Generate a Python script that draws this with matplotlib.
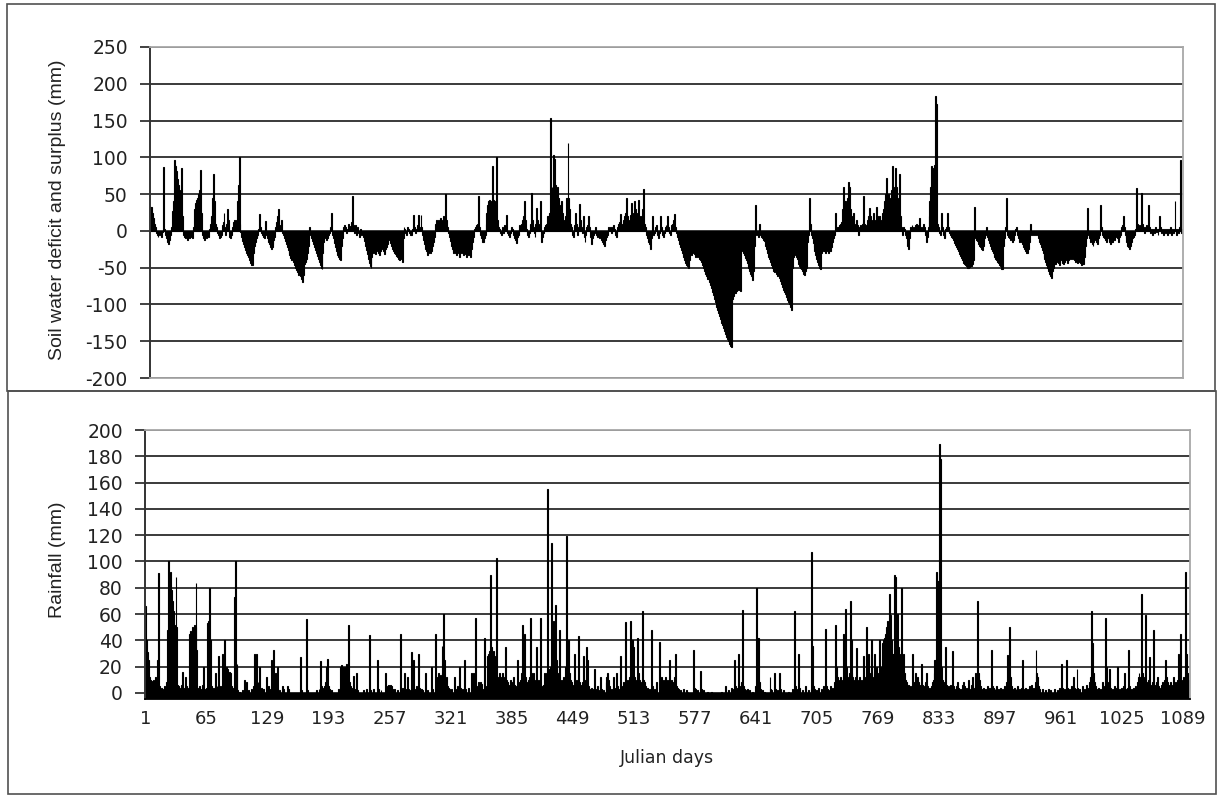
import numpy as np
import matplotlib
matplotlib.use("Agg")
import matplotlib.pyplot as plt
from matplotlib.patches import Rectangle

# Daily soil water deficit (-) and surplus (+), mm
deficit_a = [  # days 1-370
    33, 32, 25, 18, 10, 5, -3, -5, -8, -5,
    -3, -6, -8, -2, 87, 3, -5, -10, -15, -18,
    -12, -5, 5, 27, 40, 96, 90, 88, 82, 70,
    62, 55, 45, 85, 20, -5, -8, -10, -6, -12,
    -8, -10, -5, -3, -8, -10, 5, 30, 38, 42,
    45, 50, 55, 83, 25, -5, -10, -12, -8, -10,
    -5, -3, -8, 2, 10, 20, 45, 78, 40, 10,
    5, -3, -5, -10, -8, -5, 8, 12, 25, 5,
    -5, 10, 30, 15, -8, -10, -6, 5, 12, 15,
    10, 15, 40, 63, 100, 10, -2, -8, -14, -18,
    -22, -26, -30, -33, -36, -40, -43, -46, -47, -30,
    -20, -15, -10, -8, -5, 3, 23, 5, -3, -5,
    -8, -10, 13, -5, -10, -15, -18, -22, -25, -22,
    -18, -12, -8, 5, 12, 20, 30, 8, 5, 15,
    -3, -6, -10, -14, -18, -22, -26, -30, -33, -37,
    -40, -38, -42, -46, -50, -53, -56, -60, -55, -62,
    -66, -70, -60, -45, -42, -40, -38, -30, -20, 5,
    -5, -10, -14, -18, -22, -26, -30, -34, -38, -42,
    -46, -50, -52, -30, -15, -10, -8, -12, -10, -5,
    -3, 5, 25, -5, -10, -16, -22, -28, -33, -36,
    -30, -38, -40, -20, -10, 5, 8, 5, -3, 3,
    10, 5, 6, 12, 48, 8, -3, 5, 8, -5,
    5, -3, -8, 3, -5, -2, -8, -14, -20, -26,
    -32, -38, -44, -48, -50, -35, -28, -30, -26, -32,
    -28, -24, -30, -33, -28, -25, -20, -28, -32, -25,
    -22, -18, -5, -8, -12, -16, -20, -24, -28, -30,
    -32, -34, -36, -38, -40, -35, -38, -42, -10, 5,
    3, -3, -5, 5, 3, -3, -5, -5, 2, 22,
    5, -3, 3, 8, 22, 5, 3, 22, 5, -5,
    -12, -18, -24, -28, -33, -30, -26, -30, -28, -20,
    -15, -8, 10, 15, 12, 8, 15, 10, 18, 15,
    12, 20, 14, 50, 15, 5, -3, -8, -14, -20,
    -25, -28, -30, -26, -30, -33, -28, -30, -35, -30,
    -27, -30, -33, -28, -32, -35, -30, -33, -26, -30,
    -35, -25, -15, -8, 3, 5, 8, 10, 48, 5,
    -5, -10, -15, -15, -10, -5, 10, 25, 35, 40,
    42, 38, 40, 88, 42, 35, 40, 100, 15, 5,
]
deficit_b = [  # days 371-730
    3, -3, -5, 5, 3, -3, 8, 5, 22, -3,
    -5, -8, -3, 5, 2, -5, -10, -12, -17, -8,
    -5, 3, 8, 5, 10, 15, 20, 40, 15, 3,
    -5, -8, -3, 10, 52, 15, 5, -3, -8, 10,
    31, 15, 5, 10, 40, -15, -8, -3, 5, 8,
    10, 20, 20, 25, 153, 30, 60, 45, 103, 98,
    63, 55, 60, 45, 35, 20, 40, 25, 15, 10,
    20, 45, 45, 119, 45, 30, 10, 5, -5, -8,
    8, 24, 10, -5, 5, 36, 15, 5, -3, 20,
    -8, -15, -5, 5, 8, 20, 5, -8, -18, -10,
    -5, -3, 5, -5, -8, -3, -10, -5, -8, -12,
    -15, -18, -20, -12, -8, -5, 5, 3, 5, -3,
    5, 8, 3, -5, -8, -3, 5, 10, 12, 23,
    5, 10, 15, 20, 25, 45, 20, 15, 10, 22,
    38, 25, 20, 25, 40, 30, 15, 25, 42, 20,
    15, 20, 30, 57, 10, 5, -5, -10, -15, -18,
    -22, -25, -10, 20, -5, -3, 5, 8, -5, -10,
    -3, 20, 5, -5, -8, -3, 5, 8, 3, 20,
    5, -3, -5, 8, 10, 15, 23, 5, -3, -8,
    -13, -18, -22, -26, -30, -33, -36, -40, -43, -46,
    -48, -50, -40, -31, -33, -30, -28, -32, -35, -33,
    -36, -30, -33, -38, -40, -42, -46, -50, -55, -58,
    -62, -65, -65, -70, -74, -78, -83, -87, -92, -97,
    -100, -104, -108, -112, -116, -120, -125, -128, -132, -136,
    -140, -144, -147, -150, -154, -156, -158, -100, -92, -88,
    -85, -84, -82, -80, -78, -80, -82, -24, -28, -30,
    -33, -37, -40, -44, -47, -50, -54, -58, -62, -67,
    -55, -20, 35, -5, -3, -8, 10, -5, -8, -10,
    -12, -14, -15, -20, -25, -30, -35, -38, -42, -46,
    -50, -54, -56, -54, -58, -62, -60, -64, -68, -70,
    -72, -76, -80, -83, -86, -90, -94, -97, -100, -104,
    -107, -50, -35, -33, -30, -35, -38, -40, -45, -48,
    -50, -52, -55, -58, -60, -55, -50, -15, -5, 45,
    10, -5, -10, -16, -22, -28, -33, -38, -42, -46,
    -50, -52, -30, -25, -27, -28, -30, -26, -28, -30,
    -25, -27, -28, -22, -15, -10, -5, 25, 3, 5,
]
deficit_c = [  # days 731-1096
    5, 8, 10, 12, 30, 60, 40, 40, 20, 15,
    45, 66, 60, 30, 20, 15, 24, 10, 5, 15,
    8, -5, 5, 8, 5, 10, 12, 47, 10, 5,
    8, 15, 20, 31, 20, 15, 10, 25, 15, 10,
    33, 20, 15, 20, 20, 12, 15, 25, 30, 40,
    50, 72, 45, 50, 40, 45, 55, 88, 60, 50,
    86, 60, 60, 40, 45, 77, 20, 5, -5, 5,
    3, -5, -10, -20, -25, -10, 5, 3, 8, 5,
    3, 5, 8, 10, 5, 8, 17, 5, 3, 5,
    10, 5, -5, -15, -8, 5, 20, 40, 60, 88,
    82, 85, 90, 184, 173, 10, 5, -3, -5, 25,
    5, -5, -10, -8, 3, 5, 25, 5, -3, -5,
    -8, -10, -13, -16, -19, -22, -25, -28, -31, -34,
    -37, -40, -40, -43, -45, -47, -48, -50, -50, -49,
    -48, -48, -45, -40, 33, -10, -12, -14, -15, -18,
    -20, -22, -24, -26, -20, -10, -5, 5, -8, -12,
    -16, -20, -24, -27, -30, -33, -36, -38, -40, -42,
    -44, -46, -48, -52, -52, -20, -10, 5, 45, -5,
    -8, -10, -12, -8, -10, -15, -12, -5, 3, 5,
    -5, -10, -15, -12, -15, -18, -22, -25, -28, -30,
    -30, -30, -25, -15, 10, -5, -3, -5, -3, -5,
    -3, -5, -10, -15, -18, -22, -26, -30, -35, -38,
    -42, -46, -50, -55, -58, -62, -64, -55, -50, -45,
    -45, -42, -40, -44, -46, -42, -38, -40, -43, -45,
    -42, -38, -40, -44, -40, -36, -38, -35, -38, -35,
    -40, -42, -38, -40, -44, -40, -42, -44, -46, -45,
    -45, -35, -20, -10, 31, -5, -10, -15, -12, -18,
    -20, -15, -10, -12, -15, -18, -10, -5, 35, 5,
    -5, -8, -10, -12, -15, -10, -8, -12, -15, -18,
    -15, -15, -10, -12, -8, -5, -10, -15, -8, -5,
    5, 8, 20, 5, -5, -10, -15, -20, -22, -25,
    -20, -15, -10, -8, -5, 3, 58, 10, 5, 8,
    3, 52, 5, 10, 5, -3, 5, 8, 3, 35,
    5, -3, 3, -5, 3, -3, 5, -2, 3, -5,
    3, 20, 5, -3, 3, -5, 2, -3, 3, -5,
    3, -3, 5, -5, 3, -3, 2, 40, 3, -5,
    3, -3, 5, 97, -3, 3,
]

# Daily rainfall, mm, as (Julian day, amount); unlisted days are dry
rain_a = [
    (1, 66), (2, 40), (3, 31), (4, 25), (5, 12), (6, 10), (7, 8), (8, 9), (9, 10), (10, 8),
    (11, 9), (12, 12), (13, 6), (14, 25), (15, 91), (16, 5), (17, 3), (18, 4), (19, 2), (20, 3),
    (21, 5), (22, 2), (23, 8), (24, 48), (25, 100), (26, 60), (27, 92), (28, 78), (29, 70), (30, 62),
    (31, 52), (32, 50), (33, 88), (34, 50), (35, 6), (36, 5), (37, 4), (38, 3), (39, 6), (40, 16),
    (41, 4), (42, 3), (43, 12), (44, 5), (45, 3), (46, 4), (47, 45), (48, 47), (49, 43), (50, 50),
    (51, 48), (52, 52), (53, 50), (54, 84), (55, 33), (56, 4), (57, 3), (58, 5), (59, 2), (60, 3),
    (61, 6), (62, 20), (63, 3), (64, 2), (65, 4), (66, 53), (67, 55), (68, 80), (69, 40), (70, 5),
    (71, 3), (72, 4), (73, 2), (74, 15), (75, 3), (76, 5), (77, 2), (78, 28), (79, 3), (80, 5),
    (81, 3), (82, 30), (83, 12), (84, 40), (85, 14), (86, 20), (87, 18), (88, 15), (89, 16), (90, 15),
    (91, 5), (92, 3), (93, 4), (94, 73), (95, 100), (96, 20), (97, 22), (98, 2), (100, 1), (103, 2),
    (105, 10), (107, 8), (109, 2), (112, 3), (114, 5), (115, 30), (116, 8), (117, 30), (118, 5), (119, 8),
    (120, 3), (121, 20), (123, 4), (125, 3), (128, 12), (130, 5), (131, 3), (133, 25), (134, 10), (135, 33),
    (136, 8), (137, 15), (138, 5), (139, 20), (140, 3), (142, 2), (145, 5), (146, 3), (150, 5), (151, 3),
    (164, 27), (165, 2), (170, 56), (171, 2), (180, 2), (183, 3), (185, 24), (186, 5), (187, 4), (188, 3),
    (189, 5), (190, 8), (191, 20), (192, 26), (193, 5), (194, 3), (196, 2), (203, 3), (205, 4), (206, 20),
    (207, 21), (208, 20), (209, 18), (210, 20), (211, 10), (212, 22), (213, 12), (214, 52), (215, 8), (216, 5),
    (217, 4), (218, 3), (219, 13), (220, 3), (222, 15), (223, 2), (230, 2), (233, 3), (236, 44), (237, 2),
    (240, 3), (244, 25), (245, 3), (248, 2), (253, 15), (254, 4), (255, 5), (256, 6), (257, 5), (258, 6),
    (259, 5), (260, 3), (262, 3), (265, 2), (268, 45), (269, 3), (271, 4), (273, 15), (274, 3), (276, 12),
    (277, 3), (278, 2), (280, 31), (281, 4), (282, 25), (283, 3), (285, 5), (287, 30), (288, 4), (290, 3),
    (292, 2), (295, 15), (297, 2), (301, 20), (302, 3), (305, 45), (306, 10), (307, 12), (308, 15), (309, 10),
    (310, 14), (311, 12), (312, 36), (313, 15), (314, 60), (315, 25), (316, 10), (317, 12), (318, 5), (319, 4),
    (320, 3), (322, 3), (325, 12), (326, 3), (328, 5), (330, 20), (331, 4), (333, 3), (336, 25), (337, 3),
    (340, 4), (343, 15), (344, 12), (345, 15), (346, 14), (347, 57), (348, 5), (349, 3), (350, 8), (351, 6),
    (352, 8), (353, 7), (354, 3), (357, 42), (358, 4), (359, 5), (360, 28), (361, 30), (362, 32), (363, 90),
    (364, 35), (365, 30),
]
rain_b = [
    (366, 32), (367, 28), (368, 25), (369, 103), (370, 10), (371, 12), (372, 15), (373, 10), (374, 12), (375, 15),
    (376, 10), (377, 8), (378, 12), (379, 35), (380, 10), (381, 8), (382, 5), (383, 6), (384, 10), (385, 8),
    (386, 5), (387, 12), (388, 6), (389, 4), (390, 5), (391, 25), (392, 8), (393, 5), (394, 10), (395, 15),
    (396, 52), (397, 20), (398, 18), (399, 45), (400, 12), (401, 8), (402, 5), (403, 10), (404, 12), (405, 57),
    (406, 15), (407, 8), (408, 15), (409, 10), (410, 8), (411, 35), (412, 5), (413, 10), (414, 8), (415, 57),
    (416, 5), (417, 4), (418, 6), (419, 15), (420, 10), (421, 12), (422, 15), (423, 155), (424, 18), (425, 12),
    (426, 20), (427, 114), (428, 40), (429, 55), (430, 50), (431, 67), (432, 25), (433, 15), (434, 12), (435, 48),
    (436, 10), (437, 8), (438, 10), (439, 12), (440, 8), (441, 10), (442, 20), (443, 119), (444, 35), (445, 40),
    (446, 15), (447, 10), (448, 8), (449, 5), (450, 6), (451, 30), (452, 8), (453, 10), (454, 5), (455, 43),
    (456, 8), (457, 6), (458, 5), (459, 8), (460, 28), (461, 10), (462, 5), (463, 8), (464, 35), (465, 25),
    (466, 5), (467, 3), (468, 2), (469, 4), (470, 3), (472, 18), (473, 3), (475, 5), (476, 2), (478, 12),
    (479, 3), (481, 2), (484, 8), (485, 12), (486, 15), (487, 10), (488, 5), (490, 3), (492, 12), (493, 4),
    (495, 15), (496, 5), (497, 3), (499, 28), (500, 5), (502, 8), (503, 5), (504, 54), (505, 10), (506, 8),
    (507, 5), (508, 10), (509, 12), (510, 55), (511, 20), (512, 40), (513, 35), (514, 12), (515, 10), (516, 8),
    (517, 42), (518, 15), (519, 10), (520, 8), (521, 5), (522, 62), (523, 10), (524, 8), (525, 5), (526, 3),
    (528, 4), (530, 3), (532, 48), (533, 5), (535, 3), (537, 8), (540, 39), (541, 10), (542, 12), (543, 10),
    (544, 8), (545, 10), (546, 12), (547, 10), (548, 8), (549, 5), (550, 10), (551, 25), (552, 8), (553, 10),
    (554, 5), (555, 8), (556, 12), (557, 30), (558, 5), (559, 4), (560, 3), (562, 2), (565, 3), (568, 2),
    (570, 1), (576, 33), (577, 4), (578, 3), (580, 2), (583, 17), (584, 3), (586, 2), (590, 1), (595, 1),
    (605, 1), (609, 5), (612, 2), (616, 4), (617, 3), (619, 25), (620, 5), (621, 3), (622, 4), (623, 30),
    (624, 5), (625, 3), (626, 8), (627, 63), (628, 5), (629, 3), (630, 2), (632, 3), (635, 2), (638, 1),
    (641, 5), (642, 80), (643, 42), (644, 42), (645, 8), (646, 3), (648, 2), (650, 1), (656, 12), (657, 3),
    (658, 2), (661, 15), (662, 3), (664, 2), (666, 15), (667, 3), (670, 2), (675, 1), (680, 3), (682, 62),
    (683, 5), (684, 3), (686, 30), (687, 4), (690, 2), (693, 5), (696, 2), (699, 3), (700, 107), (701, 36),
    (702, 5), (703, 3), (705, 2), (707, 4), (710, 3), (712, 5), (714, 49), (715, 5), (716, 3), (718, 2),
    (719, 5), (720, 3), (722, 4), (724, 8), (725, 52), (726, 20), (727, 12), (728, 10), (729, 8), (730, 12),
]
rain_c = [
    (731, 10), (732, 8), (733, 45), (734, 15), (735, 64), (736, 20), (737, 12), (738, 10), (739, 15), (740, 70),
    (741, 40), (742, 15), (743, 12), (744, 10), (745, 8), (746, 12), (747, 34), (748, 10), (749, 8), (750, 12),
    (751, 10), (752, 8), (753, 10), (754, 28), (755, 12), (756, 10), (757, 50), (758, 12), (759, 30), (760, 15),
    (761, 12), (762, 40), (763, 15), (764, 12), (765, 10), (766, 30), (767, 15), (768, 20), (769, 12), (770, 15),
    (771, 40), (772, 20), (773, 15), (774, 38), (775, 40), (776, 42), (777, 45), (778, 50), (779, 55), (780, 48),
    (781, 75), (782, 59), (783, 40), (784, 30), (785, 25), (786, 30), (787, 90), (788, 88), (789, 40), (790, 60),
    (791, 35), (792, 30), (793, 25), (794, 80), (795, 20), (796, 30), (797, 15), (798, 10), (799, 8), (800, 5),
    (801, 6), (802, 4), (803, 5), (804, 3), (805, 30), (806, 5), (807, 8), (808, 6), (809, 15), (810, 5),
    (811, 12), (812, 8), (813, 6), (814, 5), (815, 22), (816, 6), (817, 5), (818, 4), (819, 8), (820, 15),
    (821, 5), (822, 3), (823, 4), (824, 3), (825, 5), (826, 8), (827, 10), (828, 15), (829, 25), (830, 25),
    (831, 92), (832, 85), (833, 85), (834, 189), (835, 178), (836, 20), (837, 10), (838, 8), (839, 5), (840, 35),
    (841, 6), (842, 4), (843, 5), (844, 3), (845, 6), (846, 4), (847, 32), (848, 5), (849, 4), (850, 3),
    (852, 5), (853, 8), (854, 4), (856, 3), (858, 6), (859, 8), (860, 5), (862, 4), (864, 10), (865, 3),
    (867, 6), (868, 12), (869, 4), (871, 5), (872, 15), (873, 12), (874, 70), (875, 15), (876, 10), (877, 5),
    (878, 3), (880, 4), (882, 3), (884, 5), (886, 4), (888, 33), (889, 5), (890, 4), (892, 3), (894, 5),
    (896, 3), (898, 4), (900, 3), (902, 5), (904, 8), (905, 29), (906, 25), (907, 50), (908, 12), (909, 5),
    (910, 3), (912, 4), (914, 3), (916, 5), (918, 3), (920, 4), (921, 25), (922, 3), (924, 4), (926, 3),
    (928, 5), (930, 6), (932, 4), (934, 8), (935, 33), (936, 15), (937, 12), (938, 5), (939, 3), (942, 3),
    (945, 2), (948, 3), (950, 2), (954, 3), (958, 2), (960, 4), (962, 22), (963, 4), (965, 3), (967, 25),
    (968, 4), (970, 3), (972, 5), (974, 12), (975, 4), (977, 3), (978, 18), (979, 4), (981, 3), (984, 5),
    (986, 3), (988, 6), (990, 4), (991, 8), (992, 12), (993, 62), (994, 38), (995, 15), (996, 8), (997, 5),
    (998, 3), (1001, 4), (1003, 3), (1005, 8), (1006, 5), (1007, 3), (1008, 57), (1009, 20), (1010, 8), (1011, 5),
    (1012, 18), (1013, 4), (1015, 3), (1017, 5), (1019, 4), (1020, 20), (1021, 5), (1023, 3), (1025, 4), (1027, 5),
    (1028, 15), (1029, 3), (1031, 4), (1032, 33), (1033, 5), (1035, 3), (1037, 4), (1039, 5), (1041, 8), (1042, 12),
    (1043, 15), (1044, 12), (1045, 10), (1046, 75), (1047, 15), (1048, 12), (1049, 10), (1050, 59), (1051, 8), (1052, 6),
    (1053, 10), (1054, 27), (1055, 6), (1056, 5), (1057, 8), (1058, 48), (1059, 6), (1060, 5), (1061, 8), (1062, 12),
    (1063, 5), (1065, 4), (1067, 6), (1068, 8), (1069, 5), (1070, 10), (1071, 25), (1072, 12), (1073, 8), (1074, 6),
    (1075, 5), (1076, 8), (1077, 4), (1078, 6), (1079, 12), (1080, 5), (1081, 8), (1082, 6), (1083, 10), (1084, 30),
    (1085, 8), (1086, 12), (1087, 45), (1088, 10), (1089, 8), (1090, 12), (1091, 6), (1092, 92), (1093, 30), (1094, 15),
    (1095, 10), (1096, 8),
]

deficit_ticks = [250, 200, 150, 100, 50, 0, -50, -100, -150, -200]
rain_ticks = [0, 20, 40, 60, 80, 100, 120, 140, 160, 180, 200]
day_ticks = [1, 65, 129, 193, 257, 321, 385, 449, 513, 577, 641, 705, 769, 833, 897, 961, 1025, 1089]

# ---------------------------------------------------------------------------
deficit = np.array(deficit_a + deficit_b + deficit_c, dtype=float)
n_days = len(deficit)
days = np.arange(1, n_days + 1)
rain = np.zeros(n_days)
for d, mm in rain_a + rain_b + rain_c:
    rain[d - 1] = mm

W, H = 1224, 796
fig = plt.figure(figsize=(W / 100, H / 100), dpi=100)
fig.patch.set_facecolor("white")


def px_axes(x0, y0, x1, y1):
    return fig.add_axes([x0 / W, 1 - y1 / H, (x1 - x0) / W, (y1 - y0) / H])


GRID = "#3a3a3a"
BORDER = "#a8a8a8"
TXT = "#222222"
TICK_FONT = "DejaVu Sans"
LABEL_FONT = "Liberation Sans"

# outer frames of the two chart blocks
for (x0, y0, x1, y1) in [(7, 4, 1215, 391), (8, 391, 1216, 794)]:
    fig.add_artist(Rectangle((x0 / W, 1 - y1 / H), (x1 - x0) / W, (y1 - y0) / H,
                             transform=fig.transFigure, fill=False,
                             edgecolor="#505050", linewidth=1.2))


def style(ax, ticks, ylim):
    ax.set_ylim(*ylim)
    ax.set_xlim(0.5, n_days + 0.5)
    ax.set_yticks(ticks)
    ax.set_yticklabels([str(t) for t in ticks], fontfamily=TICK_FONT,
                       fontsize=13.5, color=TXT)
    ax.yaxis.grid(True, color=GRID, linewidth=1.4)
    ax.set_axisbelow(True)
    for side in ("top", "right", "bottom"):
        ax.spines[side].set_color(BORDER)
        ax.spines[side].set_linewidth(1.3)
    ax.spines["left"].set_color("#333333")
    ax.spines["left"].set_linewidth(1.4)
    ax.tick_params(axis="y", direction="out", length=7, width=1.3,
                   color="#333333", pad=9)


# --- upper panel: soil water deficit and surplus
ax1 = px_axes(150, 47, 1183, 378)
style(ax1, deficit_ticks, (-200, 250))
ax1.bar(days, deficit, width=1.0, color="black", edgecolor="black", linewidth=0.8)
ax1.set_xticks([])
fig.text(57 / W, 1 - 210 / H, "Soil water deficit and surplus (mm)", rotation=90,
         ha="center", va="center", fontsize=14, fontfamily=LABEL_FONT, color=TXT)

# --- lower panel: rainfall
ax2 = px_axes(145, 430, 1190, 699)
style(ax2, rain_ticks, (-4.6, 200))
ax2.axhspan(-4.6, 0, color="black", zorder=1)
ax2.bar(days, rain, width=1.0, color="black", edgecolor="black", linewidth=0.8)
ax2.spines["bottom"].set_color("black")
ax2.set_xticks(day_ticks)
ax2.set_xticklabels([str(t) for t in day_ticks], fontfamily=TICK_FONT,
                    fontsize=13, color=TXT)
ax2.tick_params(axis="x", length=0, pad=8)
fig.text(58 / W, 1 - 560 / H, "Rainfall (mm)", rotation=90, ha="center",
         va="center", fontsize=14, fontfamily=LABEL_FONT, color=TXT)
fig.text(667 / W, 1 - 758 / H, "Julian days", ha="center", va="center",
         fontsize=12.5, fontfamily=TICK_FONT, color=TXT)

fig.savefig("out.png", dpi=100, facecolor="white")
